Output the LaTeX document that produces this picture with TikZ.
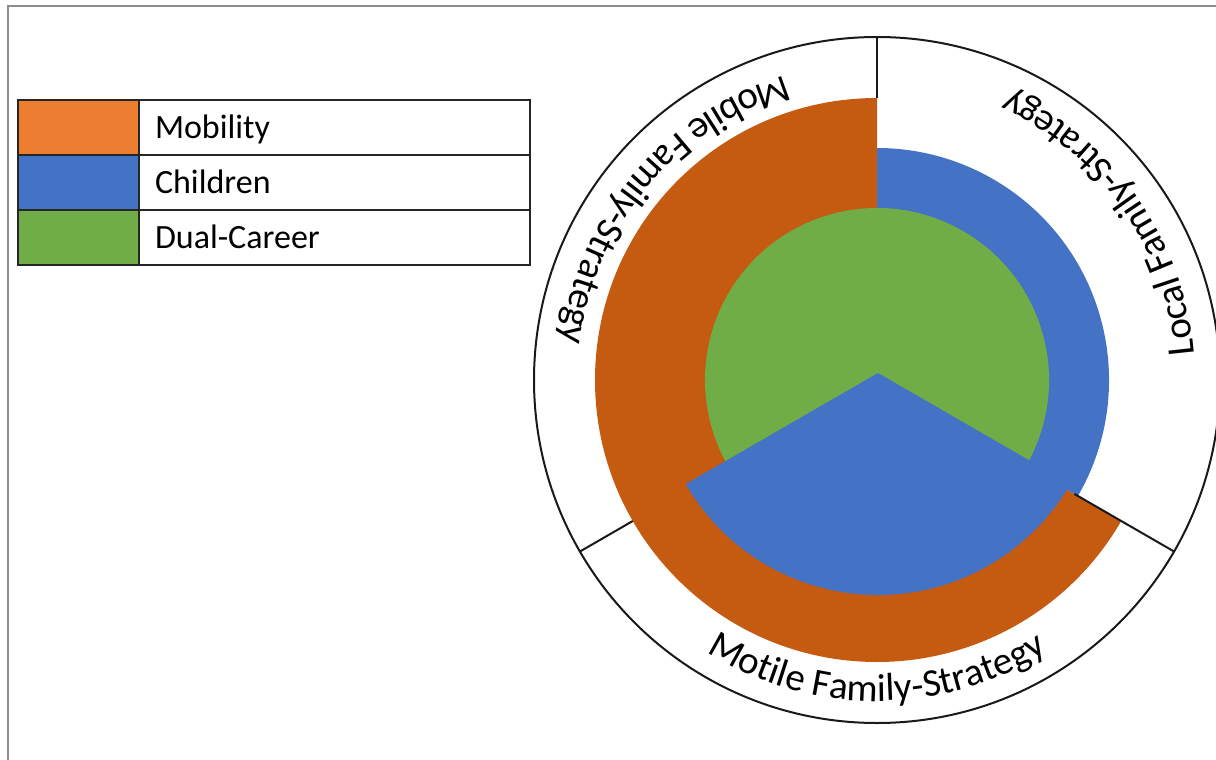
\documentclass[tikz,border=0pt]{standalone}
\usepackage{fontspec}
\setmainfont{Carlito}
\usetikzlibrary{calc,decorations.text}

\definecolor{legOrange}{HTML}{ED7D31}
\definecolor{legBlue}{HTML}{4472C4}
\definecolor{legGreen}{HTML}{70AD47}
\definecolor{mobOrange}{HTML}{C55A11}
\definecolor{frameGray}{HTML}{8C8C8C}

\newcommand{\legendfont}{\fontsize{34}{40}\selectfont}
\newcommand{\ringfont}{\fontsize{39}{46}\selectfont}

\begin{document}
\begin{tikzpicture}[x=1pt,y=1pt,
  swatch/.style={draw=black!85, line width=2pt, minimum width=121pt,
    minimum height=55pt, inner sep=0pt, outer sep=0pt, anchor=north west},
  entry/.style={draw=black!85, line width=2pt, minimum width=391pt,
    minimum height=55pt, inner xsep=16pt, inner ysep=0pt, outer sep=0pt,
    text width=359pt, align=left, text height=22pt, text depth=0pt,
    font=\legendfont, anchor=north west},
  ring/.style={draw=black!90, line width=2pt},
  ringlabel/.style={decorate, decoration={text along path, text align=center,
    text={|\ringfont|#1}}}
]
\useasboundingbox (0,0) rectangle (1216,-760);

% page frame
\draw[frameGray, line width=2pt] (8,-760) -- (8,-6) -- (1216,-6);

% legend
\node[swatch, fill=legOrange] (swMob) at (18,-100) {};
\node[swatch, fill=legBlue]   (swChi) at (18,-155) {};
\node[swatch, fill=legGreen]  (swDua) at (18,-210) {};
\node[entry] (enMob) at (139,-100) {Mobility};
\node[entry] (enChi) at (139,-155) {Children};
\node[entry] (enDua) at (139,-210) {Dual-Career};

% radial chart
\coordinate (c)  at (877,-380);
\coordinate (cb) at (878,-373);

\draw[ring] (c) circle[radius=343];

% Mobility wedge (mobile + motile sectors)
\fill[mobOrange] (c) -- ($(c)+(90:282)$) arc[start angle=90, end angle=330, radius=282] -- cycle;
% Children, local sector
\fill[legBlue] (c) -- ($(c)+(-30:232)$) arc[start angle=-30, end angle=90, radius=232] -- cycle;
% Dual-Career wedge
\fill[legGreen] (c) -- ($(c)+(-30:172)$) arc[start angle=-30, end angle=210, radius=172] -- cycle;
% Children, motile sector
\fill[legBlue] (cb) -- ($(cb)+(210:222)$) arc[start angle=210, end angle=330, radius=222] -- cycle;

% sector dividers
\draw[ring] ($(c)+(90:282)$)  -- ($(c)+(90:343)$);
\draw[ring] ($(c)+(210:282)$) -- ($(c)+(210:343)$);
\draw[ring] ($(c)+(330:228)$) -- ($(c)+(330:343)$);

% sector labels along the ring
\path[ringlabel={Mobile Family-Strategy}] ($(c)+(70:318)$) arc[start angle=70, end angle=210, radius=318];
\path[ringlabel={Local Family-Strategy}] ($(c)+(-35:318)$) arc[start angle=-35, end angle=105, radius=318];
\path[ringlabel={Motile Family-Strategy}] ($(c)+(200:321)$) arc[start angle=200, end angle=340, radius=321];
\end{tikzpicture}
\end{document}
